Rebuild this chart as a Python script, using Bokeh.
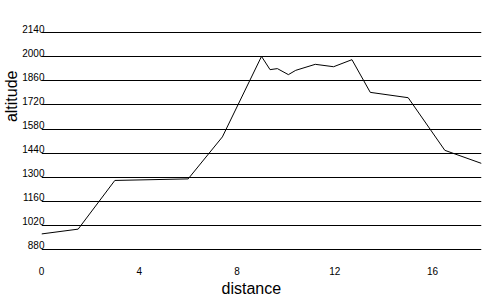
from bokeh.plotting import figure
from bokeh.models import Range1d, FixedTicker, LinearAxis, Title
from bokeh.embed import file_html
from bokeh.resources import INLINE

distance = [0, 1.5, 3.0, 6.0, 7.4, 9.0, 9.35, 9.65, 10.1, 10.4, 11.2, 11.95, 12.7, 13.45, 15.0, 16.5, 18.0]
altitude = [970, 998, 1281, 1290, 1534, 2002, 1925, 1931, 1896, 1921, 1956, 1942, 1983, 1793, 1762, 1456, 1380]
y_ticks = [880, 1020, 1160, 1300, 1440, 1580, 1720, 1860, 2000, 2140]
x_ticks = [0, 4, 8, 12, 16]

FONT = "Liberation Sans"
Y0, Y1 = 868, 2170
LABEL_SHIFT = 24  # tick labels sit just above their grid lines

p = figure(width=500, height=300, output_backend="svg", toolbar_location=None,
           x_range=Range1d(0, 18), y_range=Range1d(Y0, Y1),
           min_border_left=40, min_border_right=19, min_border_top=27, min_border_bottom=49)
p.outline_line_color = None
p.background_fill_color = "white"
p.border_fill_color = "white"

p.line(distance, altitude, line_color="black", line_width=1)

p.xgrid.grid_line_color = None
p.ygrid.ticker = FixedTicker(ticks=y_ticks)
p.ygrid.grid_line_color = "black"
p.ygrid.grid_line_alpha = 1
p.ygrid.grid_line_width = 1

p.yaxis.visible = False
p.extra_y_ranges = {"lab": Range1d(Y0 - LABEL_SHIFT, Y1 - LABEL_SHIFT)}
yax = LinearAxis(y_range_name="lab", ticker=FixedTicker(ticks=y_ticks))
p.add_layout(yax, "left")

p.xaxis.ticker = FixedTicker(ticks=x_ticks)
for ax in (p.xaxis[0], yax):
    ax.axis_line_color = None
    ax.major_tick_line_color = None
    ax.minor_tick_line_color = None
    ax.major_tick_out = 0
    ax.major_tick_in = 0
    ax.major_label_text_font = FONT
    ax.major_label_text_font_size = "10px"
    ax.major_label_text_color = "black"

yax.major_label_standoff = -3
p.xaxis.major_label_standoff = 15

p.add_layout(Title(text="distance", text_font=FONT, text_font_size="16px", text_font_style="normal",
                   text_color="black", align="left", offset=180, standoff=0), "below")
p.add_layout(Title(text="altitude", text_font=FONT, text_font_size="16px", text_font_style="normal",
                   text_color="black", align="right", offset=43, standoff=0), "left")

open("out.html", "w").write(file_html(p, INLINE))
